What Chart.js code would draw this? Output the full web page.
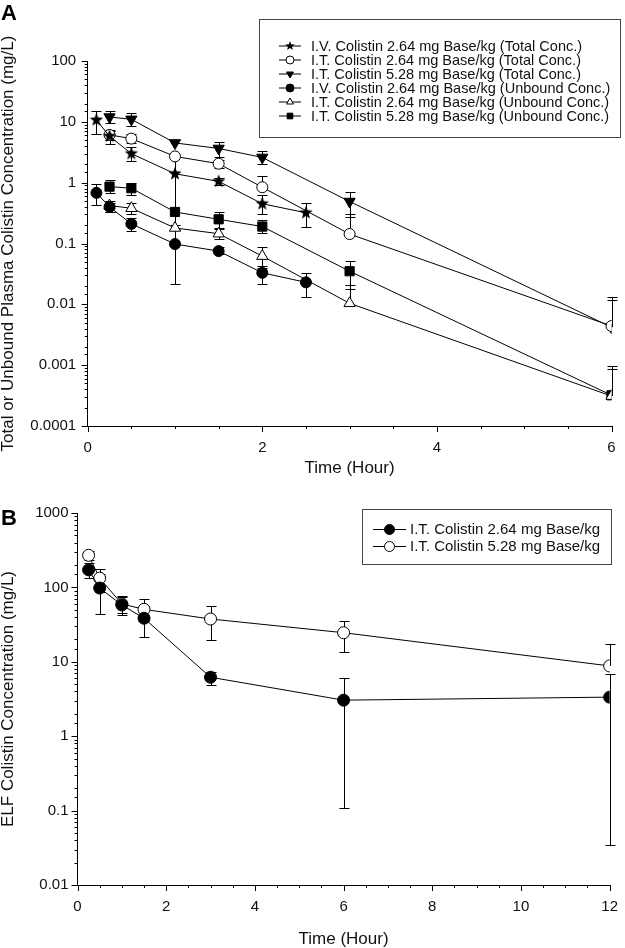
<!DOCTYPE html>
<html>
<head>
<meta charset="utf-8">
<script src="https://cdn.jsdelivr.net/npm/chart.js@4.4.1/dist/chart.umd.min.js"></script>
<style>
  html, body { margin: 0; padding: 0; background: #fff; }
  #wrap { position: relative; width: 625px; height: 948px; }
  canvas { position: absolute; left: 0; }
  .panel { position: absolute; left: 1px; font: bold 22px "Liberation Sans", Arial, sans-serif; color: #000; line-height: 22px; }
</style>
</head>
<body>
<div id="wrap">
  <canvas id="chartA" width="625" height="490" style="top:0"></canvas>
  <canvas id="chartB" width="625" height="458" style="top:490px"></canvas>
  <div class="panel" style="top:2px">A</div>
  <div class="panel" style="top:507px">B</div>
</div>
<script>
// ---- panel A: plasma colistin (mg/L), mean with error bar ends ----
const ivTimes = [0.1, 0.25, 0.5, 1, 1.5, 2, 2.5];
const itTimes = [0.25, 0.5, 1, 1.5, 2, 3, 6];

const ivTotal   = [10.7, 5.8, 3.0, 1.4, 1.05, 0.45, 0.32];
const ivTotalLo = [6.3, 4.4, 2.3, 0.2, 0.93, 0.31, 0.185];
const ivTotalHi = [15, 7.2, 3.9, 2.6, 1.2, 0.62, 0.46];

const it264Total   = [6.1, 5.3, 2.7, 2.05, 0.84, 0.143, 0.0044];
const it264TotalLo = [5.0, 4.5, null, 1.75, null, null, null];
const it264TotalHi = [7.3, 6.4, null, 2.4, 1.27, 0.31, 0.013];

const it528Total   = [12, 11, 4.5, 3.65, 2.6, 0.49, 0.0042];
const it528TotalLo = [9.5, 8.5, null, 2.65, 2.0, 0.27, null];
const it528TotalHi = [15, 14, null, 4.7, 3.35, 0.71, 0.012];

const ivUnbound   = [0.68, 0.40, 0.21, 0.098, 0.075, 0.033, 0.023];
const ivUnboundLo = [0.43, 0.33, 0.16, 0.022, 0.066, 0.022, 0.0133];
const ivUnboundHi = [0.95, 0.47, 0.26, 0.174, 0.087, 0.043, 0.033];

const it264Unbound   = [0.42, 0.38, 0.18, 0.145, 0.062, 0.0104, 0.00031];
const it264UnboundLo = [0.33, 0.31, null, 0.12, 0.04, null, null];
const it264UnboundHi = [0.5, 0.46, null, 0.18, 0.088, 0.021, 0.00086];

const it528Unbound   = [0.86, 0.81, 0.33, 0.25, 0.19, 0.035, 0.00032];
const it528UnboundLo = [0.68, 0.63, null, 0.17, 0.15, 0.018, null];
const it528UnboundHi = [1.1, 1.0, null, 0.33, 0.24, 0.052, 0.00097];

const labelsA = [
  'I.V. Colistin 2.64 mg Base/kg (Total Conc.)',
  'I.T. Colistin 2.64 mg Base/kg (Total Conc.)',
  'I.T. Colistin 5.28 mg Base/kg (Total Conc.)',
  'I.V. Colistin 2.64 mg Base/kg (Unbound Conc.)',
  'I.T. Colistin 2.64 mg Base/kg (Unbound Conc.)',
  'I.T. Colistin 5.28 mg Base/kg (Unbound Conc.)'
];

// ---- panel B: ELF colistin (mg/L) ----
const elfTimes = [0.25, 0.5, 1, 1.5, 3, 6, 12];
const elf264   = [172, 98, 58, 38.5, 6.2, 3.05, 3.35];
const elf264Lo = [132, 44, 42, 21.7, 4.9, 0.11, 0.0345];
const elf264Hi = [215, 152, 75, 55, 7.3, 6.0, 6.75];
const elf528   = [270, 133, 60, 50.7, 37.6, 24.6, 8.8];
const elf528Lo = [230, 88, 45, 35, 19.6, 13.5, null];
const elf528Hi = [310, 178, 77, 69, 56, 35.3, 17.4];

const labelsB = ['I.T. Colistin 2.64 mg Base/kg', 'I.T. Colistin 5.28 mg Base/kg'];

const FONT = "'Liberation Sans', Arial, sans-serif";

function starImage(r) {
  const c = document.createElement('canvas');
  const s = Math.ceil(r * 2) + 2;
  c.width = c.height = s;
  const g = c.getContext('2d');
  g.fillStyle = '#000';
  g.beginPath();
  for (let k = 0; k < 10; k++) {
    const rr = k % 2 ? r * 0.42 : r;
    const a = -Math.PI / 2 + k * Math.PI / 5;
    g.lineTo(s / 2 + rr * Math.cos(a), s / 2 + rr * Math.sin(a));
  }
  g.closePath();
  g.fill();
  return c;
}

function isDecade(v) {
  const l = Math.log10(v);
  return Math.abs(l - Math.round(l)) < 1e-9;
}

function series(label, times, vals, lo, hi, style) {
  return Object.assign({
    label: label,
    data: times.map((t, i) => ({ x: t, y: vals[i] })),
    lo: lo, hi: hi,
    borderColor: '#000', borderWidth: 1,
    pointBorderColor: '#000', pointBorderWidth: 1,
    tension: 0, fill: false
  }, style);
}

const errorBars = {
  id: 'errorBars',
  beforeDatasetsDraw(chart, args, opts) {
    const ctx = chart.ctx, ys = chart.scales.y;
    const cap = opts.cap || 5;
    ctx.save();
    ctx.strokeStyle = '#000';
    ctx.lineWidth = 1;
    chart.data.datasets.forEach((ds, di) => {
      chart.getDatasetMeta(di).data.forEach((pt, i) => {
        const lo = ds.lo[i], hi = ds.hi[i];
        if (lo == null && hi == null) return;
        const x = Math.round(pt.x) + 0.5;
        const top = hi != null ? Math.round(ys.getPixelForValue(hi)) + 0.5 : pt.y;
        const bot = lo != null ? Math.round(ys.getPixelForValue(lo)) + 0.5 : pt.y;
        ctx.beginPath();
        ctx.moveTo(x, top); ctx.lineTo(x, bot);
        if (hi != null) { ctx.moveTo(x - cap, top); ctx.lineTo(x + cap, top); }
        if (lo != null) { ctx.moveTo(x - cap, bot); ctx.lineTo(x + cap, bot); }
        ctx.stroke();
      });
    });
    ctx.restore();
  }
};

const tickMarks = {
  id: 'tickMarks',
  afterDraw(chart, args, opts) {
    const ctx = chart.ctx, xs = chart.scales.x, ys = chart.scales.y;
    ctx.save();
    ctx.strokeStyle = '#000';
    ctx.lineWidth = 1;
    ctx.beginPath();
    xs.ticks.forEach(t => {
      const px = Math.round(xs.getPixelForValue(t.value)) + 0.5;
      const len = t.value % opts.xMajor === 0 ? 6 : 3;
      ctx.moveTo(px, xs.top); ctx.lineTo(px, xs.top + len);
    });
    ys.ticks.forEach(t => {
      const py = Math.round(ys.getPixelForValue(t.value)) + 0.5;
      const len = isDecade(t.value) ? 6 : 3;
      ctx.moveTo(xs.left, py); ctx.lineTo(xs.left - len, py);
    });
    ctx.stroke();
    ctx.restore();
  }
};

const boxLegend = {
  id: 'boxLegend',
  afterDraw(chart, args, o) {
    const ctx = chart.ctx;
    ctx.save();
    ctx.fillStyle = '#fff';
    ctx.fillRect(o.x, o.y, o.w, o.h);
    ctx.strokeStyle = '#444';
    ctx.lineWidth = 1;
    ctx.strokeRect(o.x + 0.5, o.y + 0.5, o.w, o.h);
    chart.data.datasets.forEach((ds, i) => {
      const cy = o.firstRow + i * o.rowH;
      ctx.strokeStyle = '#000';
      ctx.beginPath();
      ctx.moveTo(o.lineX0, cy + 0.5); ctx.lineTo(o.lineX1, cy + 0.5);
      ctx.stroke();
      ctx.fillStyle = ds.pointBackgroundColor;
      ctx.strokeStyle = '#000';
      const style = ds.legendStyle || ds.pointStyle;
      Chart.helpers.drawPoint(ctx, {
        pointStyle: style, rotation: ds.pointRotation || 0,
        radius: o.markerR, borderWidth: 1
      }, (o.lineX0 + o.lineX1) / 2, cy + 0.5);
      ctx.fillStyle = '#111';
      ctx.font = o.fontSize + 'px ' + FONT;
      ctx.textBaseline = 'middle';
      ctx.textAlign = 'left';
      ctx.fillText(ds.label, o.textX, cy + 1);
    });
    ctx.restore();
  }
};

function logTicks(v) {
  return isDecade(v) ? String(v) : '';
}

function makeChart(id, datasets, p) {
  return new Chart(document.getElementById(id), {
    type: 'line',
    data: { datasets: datasets },
    plugins: [errorBars, tickMarks, boxLegend],
    options: {
      responsive: false,
      animation: false,
      devicePixelRatio: 1,
      layout: { padding: { top: p.top, right: p.right, bottom: p.bottom, left: 0 } },
      scales: {
        x: {
          type: 'linear', min: 0, max: p.xMax,
          afterFit: s => { s.height = p.xHeight; },
          border: { color: '#000', width: 1 },
          grid: { display: false, drawTicks: true, tickLength: 6 },
          ticks: {
            stepSize: 0.5, autoSkip: false, maxRotation: 0, padding: 7,
            color: '#111', font: { family: FONT, size: 15 },
            callback: v => (v % 2 === 0 ? String(v) : '')
          },
          title: { display: true, text: 'Time (Hour)', color: '#111', padding: 0,
                   font: { family: FONT, size: 17, lineHeight: 1 } }
        },
        y: {
          type: 'logarithmic', min: p.yMin, max: p.yMax,
          afterFit: s => { s.width = p.yWidth; },
          border: { color: '#000', width: 1 },
          grid: { display: false, drawTicks: true, tickLength: 6 },
          ticks: { autoSkip: false, padding: p.yPad, color: '#111',
                   font: { family: FONT, size: 15 }, callback: logTicks },
          title: { display: true, text: p.yTitle, color: '#111', padding: 0,
                   font: { family: FONT, size: 17, lineHeight: 1 } }
        }
      },
      plugins: {
        legend: { display: false },
        tooltip: { enabled: false },
        errorBars: { cap: 5 },
        tickMarks: { xMajor: 2 },
        boxLegend: p.legend
      }
    }
  });
}

const star = starImage(7);
const starSmall = starImage(5);

const datasetsA = [
  series(labelsA[0], ivTimes, ivTotal, ivTotalLo, ivTotalHi,
         { pointStyle: star, legendStyle: starSmall, pointBackgroundColor: '#000', pointRadius: 6 }),
  series(labelsA[1], itTimes, it264Total, it264TotalLo, it264TotalHi,
         { pointStyle: 'circle', pointBackgroundColor: '#fff', pointRadius: 5.5 }),
  series(labelsA[2], itTimes, it528Total, it528TotalLo, it528TotalHi,
         { pointStyle: 'triangle', pointRotation: 180, pointBackgroundColor: '#000', pointRadius: 6.5 }),
  series(labelsA[3], ivTimes, ivUnbound, ivUnboundLo, ivUnboundHi,
         { pointStyle: 'circle', pointBackgroundColor: '#000', pointRadius: 5.5 }),
  series(labelsA[4], itTimes, it264Unbound, it264UnboundLo, it264UnboundHi,
         { pointStyle: 'triangle', pointBackgroundColor: '#fff', pointRadius: 6.5 }),
  series(labelsA[5], itTimes, it528Unbound, it528UnboundLo, it528UnboundHi,
         { pointStyle: 'rect', pointBackgroundColor: '#000', pointRadius: 6.5 })
];

const datasetsB = [
  series(labelsB[0], elfTimes, elf264, elf264Lo, elf264Hi,
         { pointStyle: 'circle', pointBackgroundColor: '#000', pointRadius: 6 }),
  series(labelsB[1], elfTimes, elf528, elf528Lo, elf528Hi,
         { pointStyle: 'circle', pointBackgroundColor: '#fff', pointRadius: 6 })
];

makeChart('chartA', datasetsA, {
  top: 61, right: 13.5, bottom: 13.5, xHeight: 50.5, yWidth: 87.7, yPad: 5.5,
  xMax: 6, yMin: 0.0001, yMax: 100,
  yTitle: 'Total or Unbound Plasma Colistin Concentration (mg/L)',
  legend: { x: 259, y: 19, w: 361, h: 118, firstRow: 45.5, rowH: 14,
            lineX0: 279, lineX1: 301, markerR: 4, textX: 311, fontSize: 14.5 }
});

makeChart('chartB', datasetsB, {
  top: 23, right: 15, bottom: 0, xHeight: 63, yWidth: 77.5, yPad: 3,
  xMax: 12, yMin: 0.01, yMax: 1000,
  yTitle: 'ELF Colistin Concentration (mg/L)',
  legend: { x: 362, y: 19, w: 249, h: 55, firstRow: 39, rowH: 17,
            lineX0: 373, lineX1: 406, markerR: 5, textX: 410, fontSize: 15 }
});
</script>
</body>
</html>
